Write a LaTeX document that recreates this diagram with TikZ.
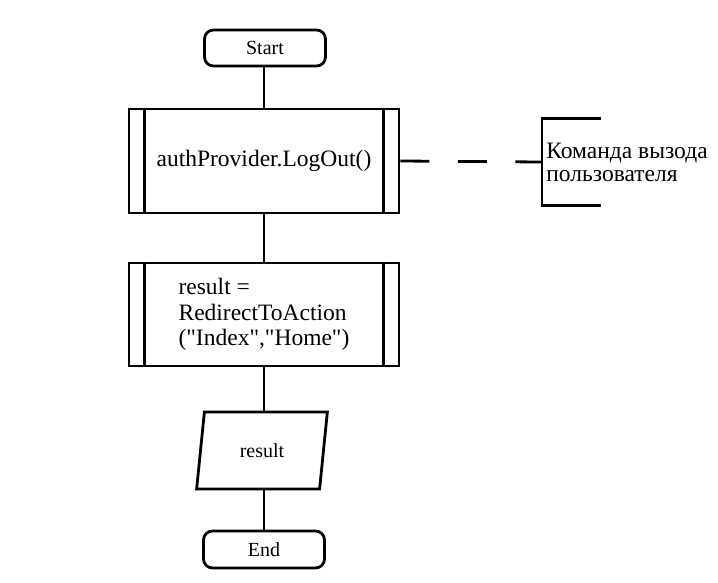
\documentclass[tikz,border=0pt]{standalone}
\usepackage{fontspec}
\setmainfont{Liberation Serif}
\usetikzlibrary{shapes.geometric}

\begin{document}
\begin{tikzpicture}[x=1pt, y=-1pt, line width=2.8pt,
    terminal/.style={draw, rounded corners=9pt, minimum width=121pt, minimum height=36pt, inner sep=0pt, font=\fontsize{20}{22}\selectfont},
    procbox/.style={draw, minimum width=270pt, minimum height=104pt, inner sep=0pt, align=left, font=\fontsize{23.5}{25.5}\selectfont},
    iobox/.style={draw, trapezium, trapezium left angle=78, trapezium right angle=102, trapezium stretches=true, minimum width=131pt, minimum height=77pt, inner sep=0pt, font=\fontsize{20}{22}\selectfont},
    notebox/.style={minimum height=84pt, inner sep=3pt, align=left, font=\fontsize{23.5}{23}\selectfont}]
    \useasboundingbox (0,0) rectangle (718,582);

    \node[terminal] (start) at (265,48) {Start};
    \node[procbox] (logout) at (264,161) {authProvider.LogOut()};
    \node[procbox, minimum height=103pt] (redirect) at (264,314.5) {result =\\RedirectToAction\\(\textquotedbl Index\textquotedbl,\textquotedbl Home\textquotedbl)};
    \node[iobox] (result) at (262,450.5) {result};
    \node[terminal, minimum height=37pt] (end) at (264,549.5) {End};

    % side bars of the process boxes
    \foreach \n in {logout, redirect} {
        \draw ([xshift=17pt]\n.north west) -- ([xshift=17pt]\n.south west);
        \draw ([xshift=-17pt]\n.north east) -- ([xshift=-17pt]\n.south east);
    }

    \draw (start.south -| logout.north) -- (logout.north);
    \draw (logout) -- (redirect);
    \draw (redirect.south) -- (redirect.south |- result.north);
    \draw (result.south -| end.north) -- (end.north);

    % comment
    \node[notebox, anchor=west] (note) at (542,162) {Команда вызода\\пользователя};
    \draw ([xshift=59pt]note.north west) -- (note.north west) -- (note.south west) -- ([xshift=59pt]note.south west);
    \draw[dash pattern=on 29pt off 28.5pt] (logout.east) -- (note.west);
\end{tikzpicture}
\end{document}
